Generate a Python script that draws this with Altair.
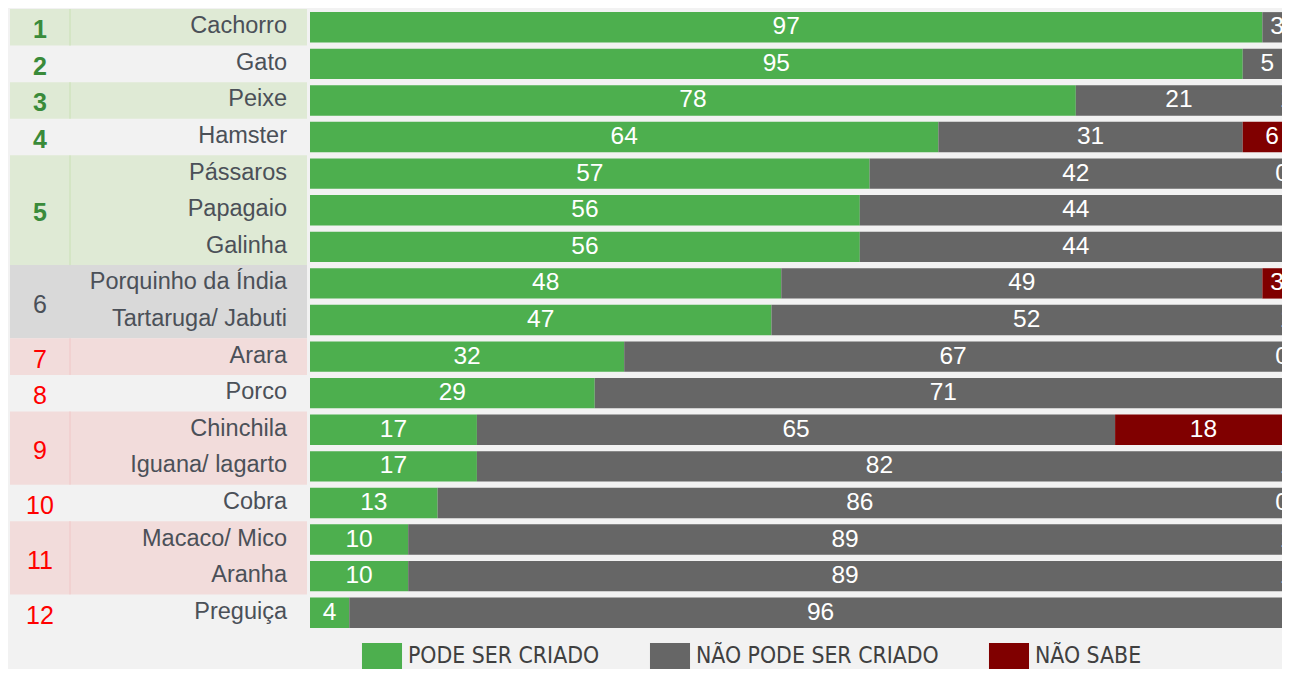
import altair as alt
import pandas as pd

# ---------------- data ----------------
animals = ["Cachorro", "Gato", "Peixe", "Hamster", "Pássaros", "Papagaio", "Galinha",
           "Porquinho da Índia", "Tartaruga/ Jabuti", "Arara", "Porco", "Chinchila",
           "Iguana/ lagarto", "Cobra", "Macaco/ Mico", "Aranha", "Preguiça"]
pode = [97, 95, 78, 64, 57, 56, 56, 48, 47, 32, 29, 17, 17, 13, 10, 10, 4]
nao_pode = [3, 5, 21, 31, 42, 44, 44, 49, 52, 67, 71, 65, 82, 86, 89, 89, 96]
nao_sabe = [0, 0, 1, 6, 0, 0, 1, 3, 1, 0, 0, 18, 1, 0, 1, 1, 1]

rank_labels = ["1", "2", "3", "4", "5", "6", "7", "8", "9", "10", "11", "12"]
rank_sizes = [1, 1, 1, 1, 3, 2, 1, 1, 2, 1, 2, 1]
rank_tiers = ["alto", "alto", "alto", "alto", "alto", "medio",
              "baixo", "baixo", "baixo", "baixo", "baixo", "baixo"]

statuses = ["PODE SER CRIADO", "NÃO PODE SER CRIADO", "NÃO SABE"]

# ---------------- styles ----------------
tiers = ["alto", "medio", "baixo"]
band_colors = ["#dfead5", "#d9d9d9", "#f2dcdb"]
sep_colors = ["#c9e0b4", "#d9d9d9", "#f0c6c6"]
rank_colors = ["#3a8b3a", "#4b5058", "#ff0000"]
status_colors = ["#4daf4e", "#666666", "#800000"]
FONT = "Liberation Sans"

# ---------------- tables ----------------
rows = []
start = 0
for lab, size, tier in zip(rank_labels, rank_sizes, rank_tiers):
    shaded = (int(lab) % 2 == 1) or tier == "medio"
    rows.append(dict(rank=lab, start=start, end=start + size,
                     mid=start + size / 2, tier=tier, shaded=shaded))
    start += size
rank_df = pd.DataFrame(rows)

names_df = pd.DataFrame({"animal": animals, "idx": list(range(len(animals)))})

long_rows = []
for a, p, n, s in zip(animals, pode, nao_pode, nao_sabe):
    for k, (st, v) in enumerate(zip(statuses, [p, n, s])):
        long_rows.append(dict(animal=a, status=st, value=v, order=k))
long_df = pd.DataFrame(long_rows)

# ---------------- left table ----------------
yscale = alt.Scale(domain=[0, len(animals)], reverse=True, nice=False, zero=False)

bands = alt.Chart(rank_df).transform_filter("datum.shaded").mark_rect().encode(
    x=alt.value(2), x2=alt.value(299),
    y=alt.Y("start:Q", scale=yscale, axis=None), y2="end:Q",
    fill=alt.Fill("tier:N", scale=alt.Scale(domain=tiers, range=band_colors), legend=None),
)
seps = alt.Chart(rank_df).transform_filter("datum.shaded").mark_rule(strokeWidth=1).encode(
    x=alt.value(62),
    y=alt.Y("start:Q", scale=yscale, axis=None), y2="end:Q",
    stroke=alt.Stroke("tier:N", scale=alt.Scale(domain=tiers, range=sep_colors), legend=None),
)
rank_bold = alt.Chart(rank_df).transform_filter("datum.tier == 'alto'").mark_text(
    font=FONT, fontSize=25, fontWeight="bold", align="center", baseline="middle", dy=3
).encode(
    x=alt.value(32), y=alt.Y("mid:Q", scale=yscale, axis=None), text="rank:N",
    color=alt.Color("tier:N", scale=alt.Scale(domain=tiers, range=rank_colors), legend=None),
)
rank_norm = alt.Chart(rank_df).transform_filter("datum.tier != 'alto'").mark_text(
    font=FONT, fontSize=25, align="center", baseline="middle", dy=3
).encode(
    x=alt.value(32), y=alt.Y("mid:Q", scale=yscale, axis=None), text="rank:N",
    color=alt.Color("tier:N", scale=alt.Scale(domain=tiers, range=rank_colors), legend=None),
)
names = alt.Chart(names_df).transform_calculate(mid="datum.idx + 0.5").mark_text(
    font=FONT, fontSize=23.5, align="right", baseline="middle", color="#4b5058", dy=-1
).encode(
    x=alt.value(279), y=alt.Y("mid:Q", scale=yscale, axis=None), text="animal:N",
)
left = alt.layer(bands, seps, rank_bold, rank_norm, names).properties(width=302, height=622)

# ---------------- right bars ----------------
xscale = alt.Scale(domain=[0, 99], nice=False, zero=False)
yband = alt.Scale(paddingInner=0.17, paddingOuter=0.085)

base = alt.Chart(long_df).transform_stack(
    stack="value", groupby=["animal"], as_=["v0", "v1"],
    sort=[alt.SortField("order", order="ascending")],
)
bars = base.mark_bar(clip=True).encode(
    y=alt.Y("animal:N", sort=animals, axis=None, scale=yband),
    x=alt.X("v0:Q", scale=xscale, axis=None), x2="v1:Q",
    color=alt.Color(
        "status:N", sort=statuses,
        scale=alt.Scale(domain=statuses, range=status_colors),
        legend=alt.Legend(
            orient="none", legendX=59, legendY=634, direction="horizontal", title=None,
            symbolType="M-1.54,-1H1.54V1H-1.54Z", symbolSize=676, symbolStrokeWidth=0,
            symbolOpacity=1, labelFont="DejaVu Sans Condensed", labelFontSize=22.8,
            labelColor="#404040", labelOffset=13, labelLimit=400, columnPadding=49,
            padding=0,
        ),
    ),
)
labels = base.transform_calculate(mid="(datum.v0 + datum.v1) / 2").mark_text(
    clip=True, font=FONT, fontSize=24.5, color="white", align="center", baseline="middle"
).encode(
    y=alt.Y("animal:N", sort=animals, axis=None, scale=yband),
    x=alt.X("mid:Q", scale=xscale, axis=None),
    text="value:Q",
)
right = alt.layer(bars, labels).properties(width=972, height=622)

chart = alt.hconcat(left, right, spacing=0).resolve_scale(
    color="independent", fill="independent", stroke="independent"
).properties(padding=0, background="#f2f2f2").configure_view(stroke=None)

chart.save("out.html", embed_options={"renderer": "svg", "actions": False})
